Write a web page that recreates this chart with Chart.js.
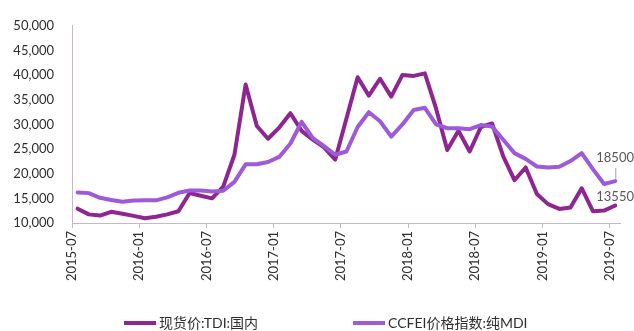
<!DOCTYPE html>
<html>
<head>
<meta charset="utf-8">
<script src="https://cdn.jsdelivr.net/npm/chart.js@4.4.1/dist/chart.umd.min.js"></script>
<style>
  html, body { margin: 0; padding: 0; background: #fff; }
  #wrap { width: 634px; height: 331px; }
</style>
</head>
<body>
<div id="wrap"><canvas id="chart"></canvas></div>
<script>
// monthly series, 2015-07 .. 2019-07
const months = [
  '2015-07','2015-08','2015-09','2015-10','2015-11','2015-12',
  '2016-01','2016-02','2016-03','2016-04','2016-05','2016-06',
  '2016-07','2016-08','2016-09','2016-10','2016-11','2016-12',
  '2017-01','2017-02','2017-03','2017-04','2017-05','2017-06',
  '2017-07','2017-08','2017-09','2017-10','2017-11','2017-12',
  '2018-01','2018-02','2018-03','2018-04','2018-05','2018-06',
  '2018-07','2018-08','2018-09','2018-10','2018-11','2018-12',
  '2019-01','2019-02','2019-03','2019-04','2019-05','2019-06',
  '2019-07'
];

const tdiSpot = [
  12900, 11750, 11500, 12270, 11880, 11450, 10970, 11260, 11750, 12390, 16080, 15530,
  15000, 17380, 23840, 38100, 29670, 27090, 29360, 32270, 28700, 26900, 25340, 22870,
  31200, 39570, 35830, 39260, 35630, 40040, 39840, 40350, 33240, 24810, 28700, 24500,
  29470, 30190, 23530, 18680, 21260, 15880, 13830, 12850, 13160, 17050, 12390, 12520,
  13550
];

const mdiIndex = [
  16210, 16060, 15110, 14660, 14330, 14560, 14600, 14600, 15200, 16120, 16600, 16600,
  16400, 16540, 18350, 21900, 21900, 22370, 23400, 26120, 30520, 27200, 25590, 23840,
  24500, 29470, 32470, 30640, 27530, 30000, 32910, 33360, 30000, 29220, 29220, 29030,
  29860, 29550, 26890, 24170, 23010, 21460, 21260, 21400, 22560, 24170, 20930, 17900,
  18500
];

const yTicks = [10000, 15000, 20000, 25000, 30000, 35000, 40000, 45000, 50000];

const seriesNames = ['现货价:TDI:国内', 'CCFEI价格指数:纯MDI'];
const darkPurple = '#8e2590';
const lightPurple = '#9d5bd9';
const axisColor = '#c9b5d2';
const textColor = '#2e2e2e';
const fontFamily = "Lato, 'Noto Sans CJK SC', sans-serif";

Chart.defaults.font.family = fontFamily;
Chart.defaults.font.size = 13;
Chart.defaults.color = textColor;

// legend drawn underneath the x labels
const bottomLegend = {
  id: 'bottomLegend',
  afterDraw(chart) {
    const ctx = chart.ctx;
    const starts = [124, 353];
    const y = 323;
    ctx.save();
    ctx.font = '14px ' + fontFamily;
    ctx.textBaseline = 'middle';
    ctx.textAlign = 'left';
    chart.data.datasets.forEach((ds, i) => {
      const x = starts[i];
      ctx.strokeStyle = ds.borderColor;
      ctx.lineWidth = 4;
      ctx.lineCap = 'butt';
      ctx.beginPath();
      ctx.moveTo(x, y);
      ctx.lineTo(x + 32, y);
      ctx.stroke();
      ctx.fillStyle = textColor;
      ctx.fillText(ds.label, x + 35, y);
    });
    ctx.restore();
  }
};

// value labels on the last point of each series
const lastValueLabels = {
  id: 'lastValueLabels',
  afterDatasetsDraw(chart) {
    const ctx = chart.ctx;
    const offsets = [
      { dx: -19, dy: -9, leader: false },
      { dx: -19, dy: -23, leader: true }
    ];
    ctx.save();
    ctx.font = '13px ' + fontFamily;
    ctx.fillStyle = '#595959';
    ctx.textBaseline = 'middle';
    ctx.textAlign = 'left';
    chart.data.datasets.forEach((ds, i) => {
      const meta = chart.getDatasetMeta(i);
      const last = meta.data[meta.data.length - 1];
      const value = ds.data[ds.data.length - 1];
      const o = offsets[i];
      ctx.fillText(String(value), last.x + o.dx, last.y + o.dy);
      if (o.leader) {
        ctx.strokeStyle = '#a6a6a6';
        ctx.lineWidth = 1;
        ctx.beginPath();
        ctx.moveTo(last.x + 0.5, last.y - 13);
        ctx.lineTo(last.x + 0.5, last.y - 2);
        ctx.stroke();
      }
    });
    ctx.restore();
  }
};

new Chart(document.getElementById('chart'), {
  type: 'line',
  data: {
    labels: months,
    datasets: [
      {
        label: seriesNames[0],
        data: tdiSpot,
        borderColor: darkPurple,
        backgroundColor: darkPurple,
        borderWidth: 4,
        order: 2
      },
      {
        label: seriesNames[1],
        data: mdiIndex,
        borderColor: lightPurple,
        backgroundColor: lightPurple,
        borderWidth: 4,
        order: 1
      }
    ]
  },
  options: {
    responsive: true,
    maintainAspectRatio: false,
    animation: false,
    layout: { padding: { top: 17, right: 12, bottom: 38, left: 0 } },
    elements: {
      point: { radius: 0 },
      line: { tension: 0, borderJoinStyle: 'round', borderCapStyle: 'round' }
    },
    plugins: {
      legend: { display: false },
      tooltip: { enabled: false }
    },
    scales: {
      x: {
        type: 'category',
        offset: true,
        afterFit(scale) { scale.height = 70; },
        grid: {
          offset: true,
          drawOnChartArea: false,
          drawTicks: true,
          tickLength: 5,
          color: ctx => (ctx.index !== undefined && ctx.index % 6 === 0) ? axisColor : 'rgba(0,0,0,0)'
        },
        border: { display: true, color: axisColor, width: 1 },
        ticks: {
          autoSkip: false,
          minRotation: 90,
          maxRotation: 90,
          padding: 3,
          labelOffset: -5.6,
          color: textColor,
          font: { size: 13 },
          callback(value, index) {
            return index % 6 === 0 ? this.getLabelForValue(value) : '';
          }
        }
      },
      y: {
        min: yTicks[0],
        max: yTicks[yTicks.length - 1],
        afterFit(scale) { scale.width = 72; },
        afterBuildTicks(scale) { scale.ticks = yTicks.map(v => ({ value: v })); },
        grid: { display: false, drawTicks: false },
        border: { display: true, color: axisColor, width: 1 },
        ticks: {
          padding: 18,
          color: textColor,
          font: { size: 13 },
          callback: v => v.toLocaleString('en-US')
        }
      }
    }
  },
  plugins: [lastValueLabels, bottomLegend]
});
</script>
</body>
</html>
